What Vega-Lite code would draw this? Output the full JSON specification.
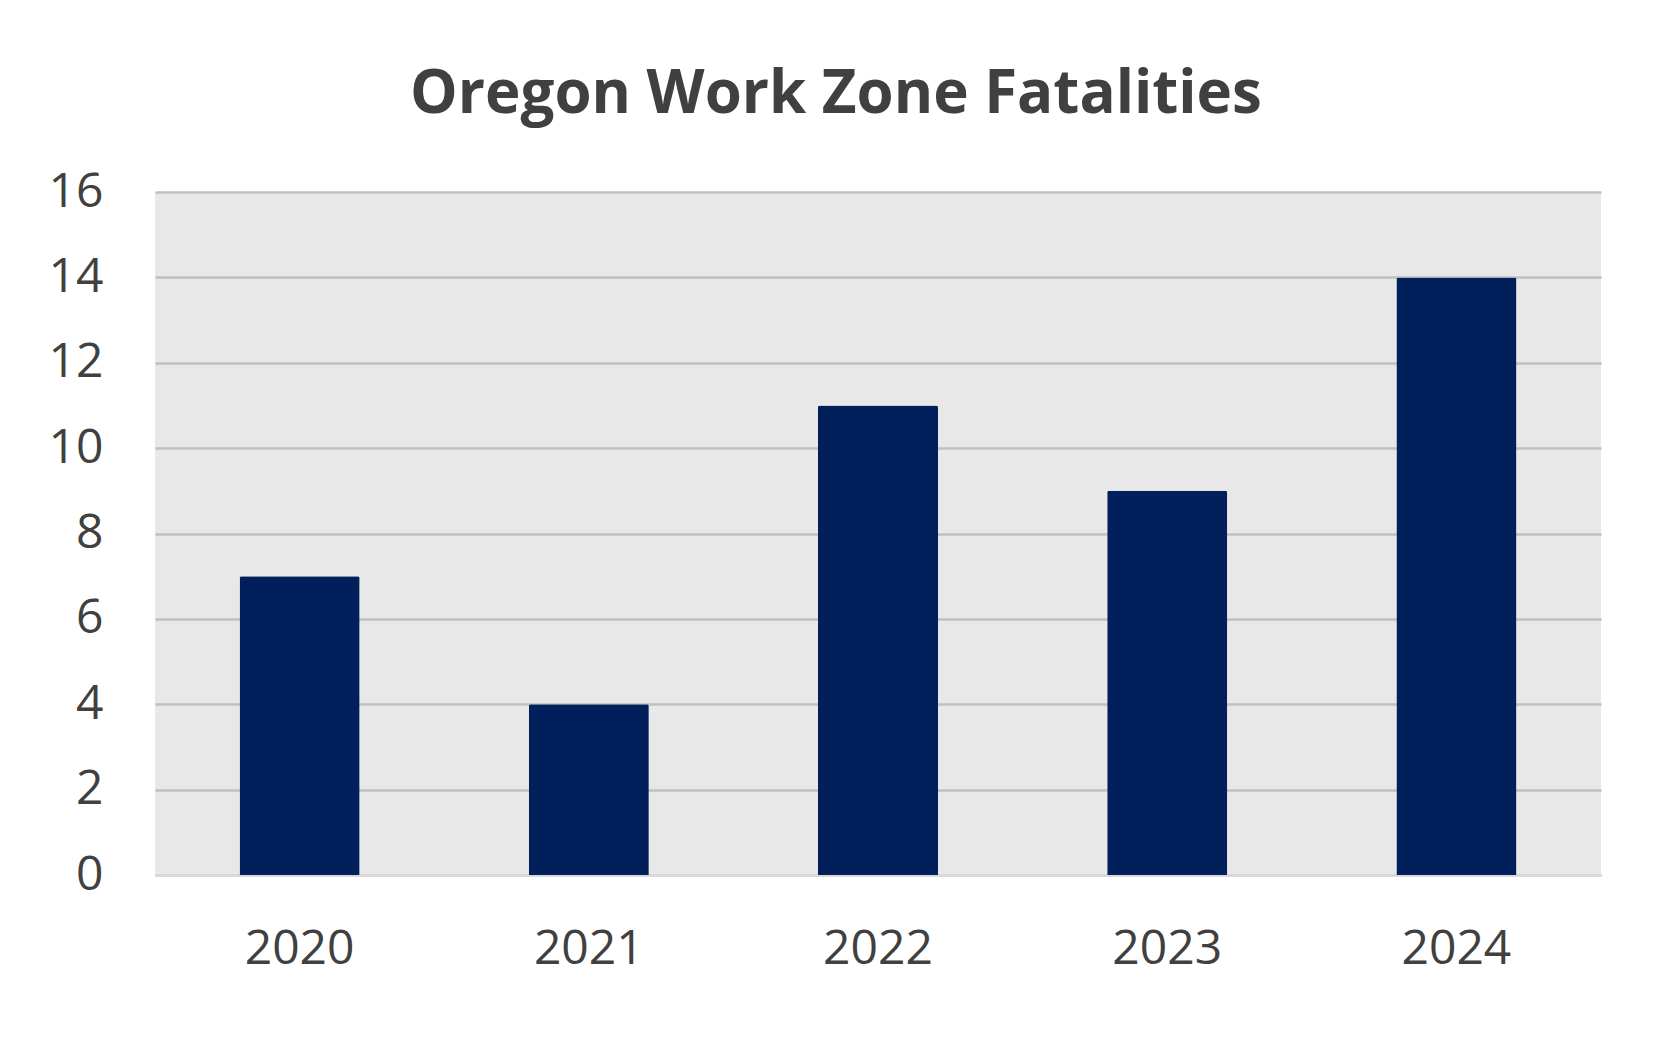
{
  "$schema": "https://vega.github.io/schema/vega-lite/v6.json",
  "width": 1446,
  "height": 683,
  "autosize": {"type": "none"},
  "padding": {"left": 155, "top": 192, "right": 71, "bottom": 166},
  "background": "white",
  "title": {
    "text": "Oregon Work Zone Fatalities",
    "font": "Open Sans",
    "fontSize": 60,
    "fontWeight": "bold",
    "color": "#404040",
    "anchor": "middle",
    "baseline": "alphabetic",
    "dx": -42,
    "dy": 85,
    "offset": 80
  },
  "data": {
    "values": [
      {"year": "2020", "fatalities": 7},
      {"year": "2021", "fatalities": 4},
      {"year": "2022", "fatalities": 11},
      {"year": "2023", "fatalities": 9},
      {"year": "2024", "fatalities": 14}
    ]
  },
  "mark": {"type": "bar", "color": "#001F5B", "cornerRadiusTopLeft": 2, "cornerRadiusTopRight": 2},
  "encoding": {
    "x": {
      "field": "year",
      "type": "ordinal",
      "title": null,
      "scale": {"paddingInner": 0.585, "paddingOuter": 0.2925},
      "axis": {
        "labelAngle": 0,
        "labelBaseline": "top",
        "labelPadding": 50,
        "ticks": false,
        "domainColor": "#D9D9D9",
        "domainWidth": 3,
        "grid": false
      }
    },
    "y": {
      "field": "fatalities",
      "type": "quantitative",
      "title": null,
      "scale": {"domain": [0, 16], "nice": false},
      "axis": {
        "values": [0, 2, 4, 6, 8, 10, 12, 14, 16],
        "ticks": false,
        "domain": false,
        "labelPadding": 52,
        "gridColor": "#C0C0C0",
        "gridWidth": 2.5
      }
    }
  },
  "config": {
    "view": {"fill": "#E8E8E8", "stroke": null},
    "axis": {
      "labelFont": "Open Sans",
      "labelFontSize": 48,
      "labelColor": "#404040"
    }
  }
}
